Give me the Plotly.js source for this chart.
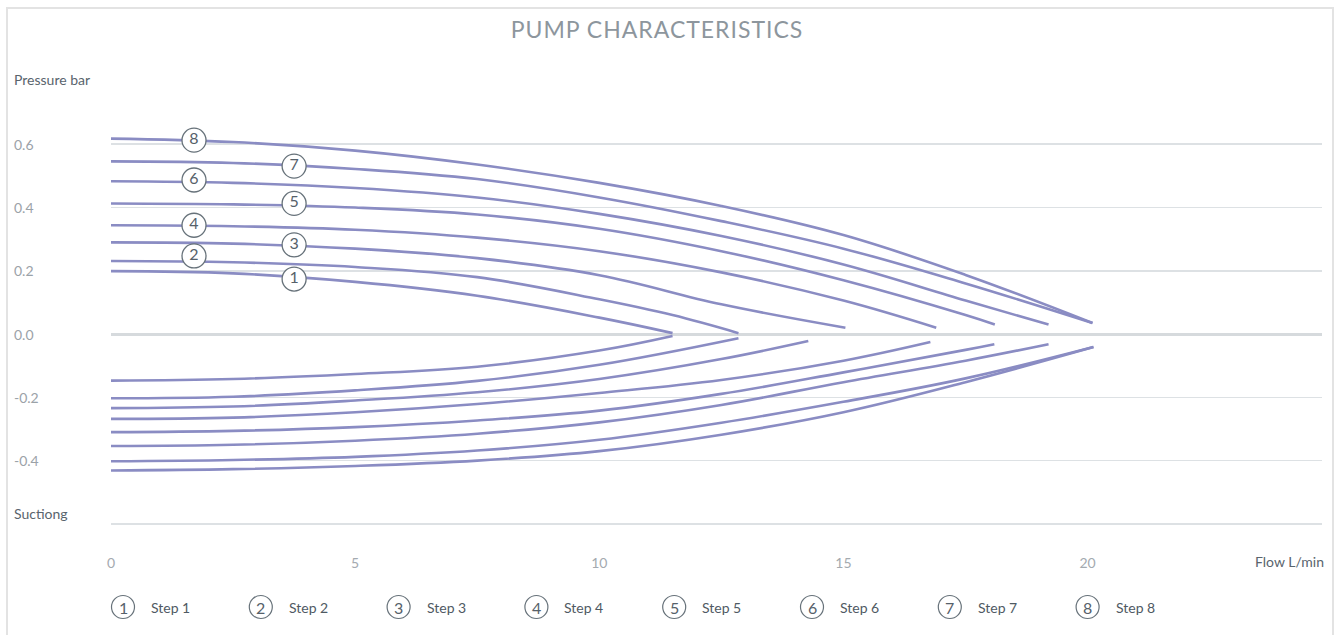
<!DOCTYPE html>
<html>
<head>
<meta charset="utf-8">
<script src="https://cdn.plot.ly/plotly-3.0.1.min.js"></script>
<style>
  html, body { margin: 0; padding: 0; background: #ffffff; overflow: hidden; }
  #chart { position: absolute; left: 0; top: 0; width: 1341px; height: 635px; }
  #frame { position: absolute; left: 6px; top: 7px; width: 1328px; height: 650px;
           box-sizing: border-box; border: 2px solid #e3e3e3; pointer-events: none; }
  #chart .gtitle { letter-spacing: 1px; }
</style>
</head>
<body>
<div id="chart"></div>
<div id="frame"></div>
<script>
// ---------- data ----------
const titleText = 'PUMP CHARACTERISTICS';
const yTitleText = 'Pressure bar';
const suctionText = 'Suctiong';
const xTitleText = 'Flow L/min';

const stepNames = ['Step 1', 'Step 2', 'Step 3', 'Step 4', 'Step 5', 'Step 6', 'Step 7', 'Step 8'];
const stepDigits = ['1', '2', '3', '4', '5', '6', '7', '8'];

const xTickVals = [0, 5, 10, 15, 20];
const xTickText = ['0', '5', '10', '15', '20'];
const yGridVals = [-0.6, -0.4, -0.2, 0, 0.2, 0.4, 0.6];
const yLabelVals = [0.6, 0.4, 0.2, 0.0, -0.2, -0.4];
const yLabelText = ['0.6', '0.4', '0.2', '0.0', '-0.2', '-0.4'];

// pressure side (positive), steps 1..8
const upFlow1 = [0, 2.5, 5, 7.5, 10, 11.5];
const upPres1 = [0.199, 0.192, 0.165, 0.121, 0.052, 0.003];
const upFlow2 = [0, 2.5, 5, 7.5, 10, 11.5, 12.85];
const upPres2 = [0.231, 0.227, 0.212, 0.180, 0.110, 0.060, 0.003];
const upFlow3 = [0, 2.5, 5, 7.5, 10, 12.5, 15.04];
const upPres3 = [0.290, 0.286, 0.270, 0.240, 0.186, 0.094, 0.020];
const upFlow4 = [0, 2.5, 5, 7.5, 10, 12.5, 15, 16.9];
const upPres4 = [0.344, 0.341, 0.330, 0.305, 0.262, 0.195, 0.106, 0.020];
const upFlow5 = [0, 2.5, 5, 7.5, 10, 12.5, 15, 17.5, 18.1];
const upPres5 = [0.413, 0.410, 0.400, 0.378, 0.333, 0.262, 0.170, 0.060, 0.030];
const upFlow6 = [0, 2.5, 5, 7.5, 10, 12.5, 15, 17.5, 19.2];
const upPres6 = [0.483, 0.478, 0.462, 0.432, 0.380, 0.310, 0.220, 0.106, 0.030];
const upFlow7 = [0, 2.5, 5, 7.5, 10, 12.5, 15, 17.5, 20.1];
const upPres7 = [0.546, 0.541, 0.522, 0.490, 0.432, 0.357, 0.270, 0.160, 0.035];
const upFlow8 = [0, 2.5, 5, 7.5, 10, 12.5, 15, 17.5, 20.1];
const upPres8 = [0.618, 0.607, 0.580, 0.536, 0.478, 0.405, 0.313, 0.187, 0.035];

// suction side (negative), steps 1..8
const loFlow1 = [0, 2.5, 5, 7.5, 10, 11.5];
const loPres1 = [-0.147, -0.142, -0.126, -0.103, -0.052, -0.006];
const loFlow2 = [0, 2.5, 5, 7.5, 10, 12.85];
const loPres2 = [-0.203, -0.198, -0.178, -0.148, -0.097, -0.013];
const loFlow3 = [0, 2.5, 5, 7.5, 10, 12.5, 14.28];
const loPres3 = [-0.234, -0.229, -0.210, -0.184, -0.142, -0.079, -0.022];
const loFlow4 = [0, 2.5, 5, 7.5, 10, 12.5, 15, 16.78];
const loPres4 = [-0.268, -0.264, -0.247, -0.221, -0.186, -0.145, -0.084, -0.025];
const loFlow5 = [0, 2.5, 5, 7.5, 10, 12.5, 15, 17.5, 18.09];
const loPres5 = [-0.310, -0.306, -0.294, -0.273, -0.242, -0.189, -0.121, -0.050, -0.032];
const loFlow6 = [0, 2.5, 5, 7.5, 10, 12.5, 15, 17.5, 19.2];
const loPres6 = [-0.354, -0.350, -0.337, -0.315, -0.279, -0.224, -0.152, -0.084, -0.032];
const loFlow7 = [0, 2.5, 5, 7.5, 10, 12.5, 15, 17.5, 20.12];
const loPres7 = [-0.402, -0.398, -0.388, -0.368, -0.334, -0.280, -0.214, -0.140, -0.041];
const loFlow8 = [0, 2.5, 5, 7.5, 10, 12.5, 15, 17.5, 20.12];
const loPres8 = [-0.431, -0.427, -0.417, -0.400, -0.370, -0.318, -0.247, -0.152, -0.041];

// circled step labels on the pressure curves
const labelFlow = [3.75, 1.70, 3.75, 1.70, 3.75, 1.70, 3.75, 1.70];
const labelPres = [0.174, 0.247, 0.282, 0.344, 0.413, 0.487, 0.531, 0.613];

// ---------- styling ----------
const curveColor = '#8a8cc3';
const circleLine = '#67727a';
const digitColor = '#56616a';
const fontFam = 'Lato, "Open Sans", sans-serif';

const upFlows = [upFlow1, upFlow2, upFlow3, upFlow4, upFlow5, upFlow6, upFlow7, upFlow8];
const upPress = [upPres1, upPres2, upPres3, upPres4, upPres5, upPres6, upPres7, upPres8];
const loFlows = [loFlow1, loFlow2, loFlow3, loFlow4, loFlow5, loFlow6, loFlow7, loFlow8];
const loPress = [loPres1, loPres2, loPres3, loPres4, loPres5, loPres6, loPres7, loPres8];

const traces = [];
function curve(x, y, name) {
  return { type: 'scatter', mode: 'lines', x: x, y: y, name: name, showlegend: false,
           hoverinfo: 'x+y+name',
           line: { color: curveColor, width: 2.6, shape: 'spline', smoothing: 1.1 } };
}
for (let i = 0; i < 8; i++) {
  traces.push(curve(loFlows[i], loPress[i], stepNames[i] + ' suction'));
}
for (let i = 0; i < 8; i++) {
  traces.push(curve(upFlows[i], upPress[i], stepNames[i] + ' pressure'));
}
traces.push({
  type: 'scatter', mode: 'markers+text', x: labelFlow, y: labelPres, text: stepDigits,
  textposition: 'middle center', showlegend: false, hoverinfo: 'skip', cliponaxis: false,
  textfont: { family: fontFam, size: 16, color: digitColor },
  marker: { symbol: 'circle', size: 24, color: '#ffffff', line: { color: circleLine, width: 1.3 } }
});

// ---------- layout helpers (pixel -> paper) ----------
const PL = 111, PR = 1322, PT = 81, PB = 525;
const px2x = px => (px - PL) / (PR - PL);
const py2y = py => (PB - py) / (PB - PT);

const annotations = [];
const shapes = [];

// y tick labels, left aligned at the frame edge
yLabelVals.forEach((v, i) => {
  annotations.push({ xref: 'paper', yref: 'y', x: px2x(12), y: v, xanchor: 'left', yanchor: 'middle',
    text: yLabelText[i], showarrow: false, font: { family: fontFam, size: 14, color: '#9ba2a8' } });
});
annotations.push({ xref: 'paper', yref: 'paper', x: px2x(12), y: py2y(79), xanchor: 'left', yanchor: 'middle',
  text: yTitleText, showarrow: false, font: { family: fontFam, size: 14, color: '#59646d' } });
annotations.push({ xref: 'paper', yref: 'paper', x: px2x(12), y: py2y(513), xanchor: 'left', yanchor: 'middle',
  text: suctionText, showarrow: false, font: { family: fontFam, size: 14, color: '#59646d' } });
annotations.push({ xref: 'paper', yref: 'paper', x: px2x(1326), y: py2y(561), xanchor: 'right', yanchor: 'middle',
  text: xTitleText, showarrow: false, font: { family: fontFam, size: 14, color: '#59646d' } });

// legend row
stepNames.forEach((name, i) => {
  const cx = 123 + i * 137.8, cy = 607;
  shapes.push({ type: 'circle', xref: 'paper', yref: 'paper', xsizemode: 'pixel', ysizemode: 'pixel',
    xanchor: px2x(cx), yanchor: py2y(cy), x0: -11.5, x1: 11.5, y0: -11.5, y1: 11.5,
    line: { color: circleLine, width: 1.2 }, fillcolor: 'rgba(0,0,0,0)' });
  annotations.push({ xref: 'paper', yref: 'paper', x: px2x(cx), y: py2y(cy), xanchor: 'center', yanchor: 'middle',
    text: stepDigits[i], showarrow: false, font: { family: fontFam, size: 16, color: digitColor } });
  annotations.push({ xref: 'paper', yref: 'paper', x: px2x(cx + 26), y: py2y(cy), xanchor: 'left', yanchor: 'middle',
    text: name, showarrow: false, font: { family: fontFam, size: 14, color: '#4f5a63' } });
});

const layout = {
  width: 1341, height: 635, autosize: false,
  margin: { l: PL, r: 1341 - PR, t: PT, b: 635 - PB, pad: 0 },
  paper_bgcolor: '#ffffff', plot_bgcolor: '#ffffff',
  showlegend: false,
  title: { text: titleText, xref: 'container', yref: 'container', x: 657 / 1341, y: 1 - 30 / 635,
           xanchor: 'center', yanchor: 'middle',
           font: { family: fontFam, size: 23, color: '#8d969d' } },
  xaxis: { range: [0, 24.8], tickvals: xTickVals, ticktext: xTickText, showgrid: false, zeroline: false,
           showline: false, ticks: '', ticklabelstandoff: 28, fixedrange: true,
           tickfont: { family: fontFam, size: 14, color: '#a4aab0' } },
  yaxis: { range: [-0.6035, 0.8], tickvals: yGridVals, showticklabels: false, showgrid: true,
           gridcolor: '#dde1e4', gridwidth: 1.6, zeroline: true, zerolinecolor: '#d6dadd', zerolinewidth: 3,
           showline: false, ticks: '', fixedrange: true },
  annotations: annotations,
  shapes: shapes
};

Plotly.newPlot('chart', traces, layout, { displayModeBar: false, staticPlot: true });
</script>
</body>
</html>
